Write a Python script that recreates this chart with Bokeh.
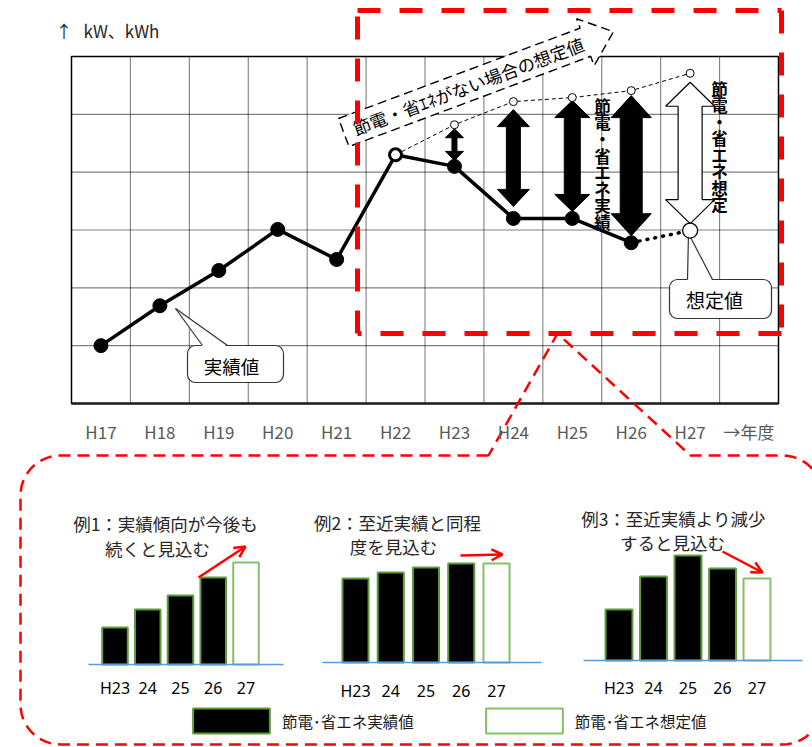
import numpy as np
from bokeh.plotting import figure
from bokeh.models import Range1d, LinearAxis, FixedTicker, Arrow, OpenHead, Legend, LegendItem
from bokeh.core.properties import value
from bokeh.embed import file_html
from bokeh.resources import INLINE

# ---------------- data ----------------
years = ["H17", "H18", "H19", "H20", "H21", "H22", "H23", "H24", "H25", "H26", "H27"]
year_axis_end = "→年度"
actual = [1.00, 1.69, 2.30, 3.01, 2.49, 4.30, 4.10, 3.20, 3.20, 2.78]   # H17-H26
estimate_h27 = 2.99                                                       # H27 想定値
no_saving = [4.30, 4.82, 5.22, 5.29, 5.41, 5.71]                          # H22-H27
no_saving_start = "H22"

ex_labels = ["H23", "24", "25", "26", "27"]
ex1_values = [3.7, 5.5, 6.9, 8.7, 10.2]
ex2_values = [8.4, 9.0, 9.5, 9.9, 9.9]
ex3_values = [5.1, 8.4, 10.5, 9.2, 8.2]
ex_titles = [["例1：実績傾向が今後も", "続くと見込む"],
             ["例2：至近実績と同程", "度を見込む"],
             ["例3：至近実績より減少", "すると見込む"]]
legend_labels = ["節電･省エネ実績値", "節電･省エネ想定値"]
unit_arrow = "↑"
unit_label = "kW、kWh"
label_actual = "実績値"
label_estimate = "想定値"
label_no_saving = "節電・省ｴﾈがない場合の想定値"
label_saving_actual = "節電・省エネ実績"
label_saving_estimate = "節電・省エネ想定"

# ---------------- layout / style ----------------
W, H = 812, 747
FL, FR, FT, FB = 71, 778, 56, 403
NCOL = len(years) + 1
NROW = 6
CW = (FR - FL) / NCOL
RH = (FB - FT) / NROW
X0 = FL + CW / 2
JP = value("Noto Sans CJK JP")
JPS = "Noto Sans CJK JP"
LATS = "Noto Sans"
RED = "#FF0000"
PG = dict(x_range_name="px", y_range_name="py")

p = figure(width=W, height=H,
           x_range=Range1d((0 - X0) / CW, (W - X0) / CW),
           y_range=Range1d(-(H - FB) / RH, FB / RH),
           min_border=0, x_axis_location=None, y_axis_location=None,
           toolbar_location=None, output_backend="svg",
           outline_line_color=None, background_fill_color="white",
           border_fill_color="white")
p.xgrid.visible = False
p.ygrid.visible = False

EX = [dict(vals=ex1_values, c0=114.5, step=32.75, base=664, width=0.78, bounds=(-0.81, 5.15), standoff=12),
      dict(vals=ex2_values, c0=355.0, step=35.25, base=662, width=0.74, bounds=(-0.94, 5.28), standoff=17),
      dict(vals=ex3_values, c0=618.5, step=34.5, base=660, width=0.78, bounds=(-1.03, 5.32), standoff=16)]
EX_UNIT = 10.0

xr = {"px": Range1d(0, W)}
yr = {"py": Range1d(H, 0)}
for k, e in enumerate(EX):
    xr[f"e{k}x"] = Range1d((0 - e["c0"]) / e["step"], (W - e["c0"]) / e["step"])
    yr[f"e{k}y"] = Range1d(-(H - e["base"]) / EX_UNIT, e["base"] / EX_UNIT)
p.extra_x_ranges = xr
p.extra_y_ranges = yr

# ---------------- main chart frame & grid ----------------
vx = [k - 0.5 for k in range(1, NCOL)]
p.segment(x0=vx, y0=[0] * len(vx), x1=vx, y1=[NROW] * len(vx),
          line_color="black", line_width=1.1, line_dash="1 1")
hy = list(range(1, NROW))
p.segment(x0=[-0.5] * len(hy), y0=hy, x1=[NCOL - 0.5] * len(hy), y1=hy,
          line_color="black", line_width=1.1, line_dash="1 1")
p.quad(left=[-0.5], right=[NCOL - 0.5], bottom=[0], top=[NROW],
       fill_color=None, line_color="black", line_width=1.5)
p.segment(x0=[-0.5], y0=[0], x1=[NCOL - 0.5], y1=[0], line_color="#222222", line_width=2.5)

xaxis = LinearAxis(fixed_location=0, ticker=FixedTicker(ticks=list(range(NCOL))),
                   major_label_overrides={i: lab for i, lab in enumerate(years + [year_axis_end])},
                   axis_line_color=None, major_tick_out=0, major_tick_in=0,
                   minor_tick_out=0, minor_tick_in=0,
                   major_label_text_font=JPS, major_label_text_font_size="17px",
                   major_label_text_color="#595959", major_label_standoff=15)
p.add_layout(xaxis, "below")

# ---------------- series ----------------
xi = list(range(len(actual)))
i_last = len(actual) - 1
ns_start = years.index(no_saving_start)
ns_x = list(range(ns_start, ns_start + len(no_saving)))

p.line(ns_x, no_saving, line_color="black", line_width=1, line_dash="4 3")
p.line([i_last, i_last + 1], [actual[-1], estimate_h27], line_color="black",
       line_width=3.5, line_dash="1 7", line_cap="round")
p.line(xi, actual, line_color="black", line_width=3.5)

# double arrows (saving amount)
AR_GAP_TOP = [4, 8, 3, 5, 9]
AR_GAP_BOT = [6, 12, 7, 7, 7]
AR_HEAD_LEN = [9, 17, 17, 22, 24]
AR_HEAD_HALF = [9, 16, 17.5, 20, 24.5]
AR_SHAFT_HALF = [2.5, 7, 8, 11, 12]
bx, by, wx, wy = [], [], [], []
for j, i in enumerate(ns_x[1:]):
    lower = actual[i] if i < len(actual) else estimate_h27
    y1 = no_saving[j + 1] - AR_GAP_TOP[j] / RH
    y0 = lower + AR_GAP_BOT[j] / RH
    hl = AR_HEAD_LEN[j] / RH
    Wd = AR_HEAD_HALF[j] / CW
    wd = AR_SHAFT_HALF[j] / CW
    xs = [i, i + Wd, i + wd, i + wd, i + Wd, i, i - Wd, i - wd, i - wd, i - Wd]
    ys = [y1, y1 - hl, y1 - hl, y0 + hl, y0 + hl, y0, y0 + hl, y0 + hl, y1 - hl, y1 - hl]
    if i < len(actual):
        bx.append(xs); by.append(ys)
    else:
        wx.append(xs); wy.append(ys)
p.patches(bx, by, fill_color="black", line_color="black", line_width=1)
p.patches(wx, wy, fill_color="white", line_color="black", line_width=1.2)

# vertical labels
def vtext(s, x, top, step):
    chars = list(s)
    p.text(x=[x] * len(chars), y=[top + step / 2 + step * n for n in range(len(chars))],
           text=chars, text_font=JP, text_font_size="16.5px", text_font_style="bold",
           text_align="center", text_baseline="middle", text_color="black", **PG)

vtext(label_saving_actual, 602, 97, 16.6)
vtext(label_saving_estimate, 719, 80, 16.5)

# rounded callouts with tails
def callout(l, r, t, b, tip, base_l, base_r, txt, tx, ty, fs):
    p.quad(left=[l], right=[r], top=[t], bottom=[b], border_radius=8,
           fill_color="white", line_color="#333333", line_width=1.2, **PG)
    p.patch([tip[0], base_l, base_r], [tip[1], t + 1.5, t + 1.5],
            fill_color="white", line_color=None, **PG)
    p.multi_line([[tip[0], base_l], [tip[0], base_r]], [[tip[1], t], [tip[1], t]],
                 line_color="#333333", line_width=1.2, **PG)
    p.text(x=[tx], y=[ty], text=[txt], text_font=JP, text_font_size=fs,
           text_align="center", text_baseline="middle", text_color="black", **PG)

callout(187, 283, 345, 382, (175, 308), 202, 227, label_actual, 231, 365, "18.5px")
callout(669, 771, 279, 318, (688, 233), 687, 712, label_estimate, 714, 299, "19px")

# markers
filled = [i for i in xi if i != ns_start]
p.scatter(filled, [actual[i] for i in filled], size=14, fill_color="black", line_color="black")
p.scatter([ns_start], [actual[ns_start]], size=12, fill_color="white", line_color="black", line_width=3)
p.scatter(ns_x[1:], no_saving[1:], size=8, fill_color="white", line_color="black", line_width=1)
p.scatter([len(actual)], [estimate_h27], size=15, fill_color="white", line_color="black", line_width=1.3)

# rotated dashed arrow-callout
TH = np.radians(20.5)
P0 = np.array([338.0, 118.0])
U = np.array([np.cos(TH), -np.sin(TH)])
V = np.array([np.sin(TH), np.cos(TH)])
shape_uv = [(0, 0), (258, 0), (258, -10), (288, 15), (258, 40), (258, 30), (0, 30), (0, 0)]
pts = [P0 + u * U + v * V for u, v in shape_uv]
p.patch([q[0] for q in pts], [q[1] for q in pts], fill_color="white", line_color="black",
        line_width=1.4, line_dash="9 5", **PG)
tc = P0 + 133 * U + 15 * V
p.text(x=[tc[0]], y=[tc[1]], text=[label_no_saving], angle=20.5, angle_units="deg",
       text_font=JP, text_font_size="17.5px", text_align="center", text_baseline="middle",
       text_color="black", **PG)

# unit label
p.text(x=[55], y=[30], text=[unit_arrow], text_font=JP, text_font_size="17px",
       text_align="left", text_baseline="middle", text_color="#262626", **PG)
p.text(x=[83], y=[30], text=[unit_label], text_font=JP, text_font_size="17px",
       text_align="left", text_baseline="middle", text_color="#262626", **PG)

# ---------------- example bar charts ----------------
act_r, fc_r = [], []
for k, e in enumerate(EX):
    rn = dict(x_range_name=f"e{k}x", y_range_name=f"e{k}y")
    n = len(e["vals"])
    ax = LinearAxis(fixed_location=0, ticker=FixedTicker(ticks=list(range(n))),
                    major_label_overrides={i: lab for i, lab in enumerate(ex_labels)},
                    bounds=e["bounds"], axis_line_color="#5B9BD5", axis_line_width=1.5,
                    major_tick_out=0, major_tick_in=0, minor_tick_out=0, minor_tick_in=0,
                    major_label_text_font=LATS, major_label_text_font_size="16px",
                    major_label_text_color="black", major_label_standoff=e["standoff"], **rn)
    p.add_layout(ax, "below")
    ra = p.vbar(x=list(range(n - 1)), top=e["vals"][:-1], bottom=0, width=e["width"],
                fill_color="black", line_color="#5E9B3A", line_width=2, **rn)
    rf = p.vbar(x=[n - 1], top=e["vals"][-1:], bottom=0, width=e["width"],
                fill_color="white", line_color="#84C164", line_width=2, **rn)
    act_r.append(ra); fc_r.append(rf)

TITLE_POS = [[(165, 523), (157, 548)], [(397, 522), (393, 546)], [(673, 518), (672, 542)]]
for k in range(3):
    for line_txt, (tx, ty) in zip(ex_titles[k], TITLE_POS[k]):
        p.text(x=[tx], y=[ty], text=[line_txt], text_font=JP, text_font_size="17.5px",
               text_align="center", text_baseline="middle", text_color="#262626", **PG)

RED_ARROWS = [((198, 577), (245, 546)), ((460, 555), (502, 554)), ((722, 551), (762, 572))]
for (sx, sy), (ex_, ey_) in RED_ARROWS:
    p.add_layout(Arrow(x_start=sx, y_start=sy, x_end=ex_, y_end=ey_, line_color=RED,
                       line_width=2.5, end=OpenHead(size=11, line_color=RED, line_width=2.5), **PG))

legend = Legend(items=[LegendItem(label=legend_labels[0], renderers=[act_r[0]]),
                       LegendItem(label=legend_labels[1], renderers=[fc_r[0]])],
                location=(183, 11), orientation="horizontal", glyph_width=96, glyph_height=31,
                label_standoff=3, spacing=62, padding=0, margin=0,
                border_line_color=None, background_fill_alpha=0,
                label_text_font=JPS, label_text_font_size="15.5px", label_text_color="#1a1a1a")
p.add_layout(legend)

# ---------------- red dashed highlight & bubble ----------------
RL, RR, RT, RB = 357, 781, 10, 333
p.multi_line([[RL, RR], [RR, RR], [RR, RL], [RL, RL]], [[RT, RT], [RT, RB], [RB, RB], [RB, RT]],
             line_color=RED, line_width=5, line_dash="23 19", **PG)

def arc(cx, cy, r, a0, a1, n=14):
    t = np.radians(np.linspace(a0, a1, n))
    return list(cx + r * np.cos(t)), list(cy + r * np.sin(t))

BL, BR, BT, BB, BRAD = 20, 822, 455, 744, 40
TAIL_L, TAIL_R, APEX = 488, 690, (557, 333)
bxs, bys = [TAIL_L], [BT]
for cx, cy, a0, a1 in [(BL + BRAD, BT + BRAD, 270, 180), (BL + BRAD, BB - BRAD, 180, 90),
                       (BR - BRAD, BB - BRAD, 90, 0), (BR - BRAD, BT + BRAD, 0, -90)]:
    ax_, ay_ = arc(cx, cy, BRAD, a0, a1)
    bxs += ax_; bys += ay_
bxs += [TAIL_R, APEX[0], TAIL_L]
bys += [BT, APEX[1], BT]
p.line(bxs, bys, line_color=RED, line_width=2.5, line_dash="12 7", **PG)

open("out.html", "w").write(file_html(p, INLINE))
